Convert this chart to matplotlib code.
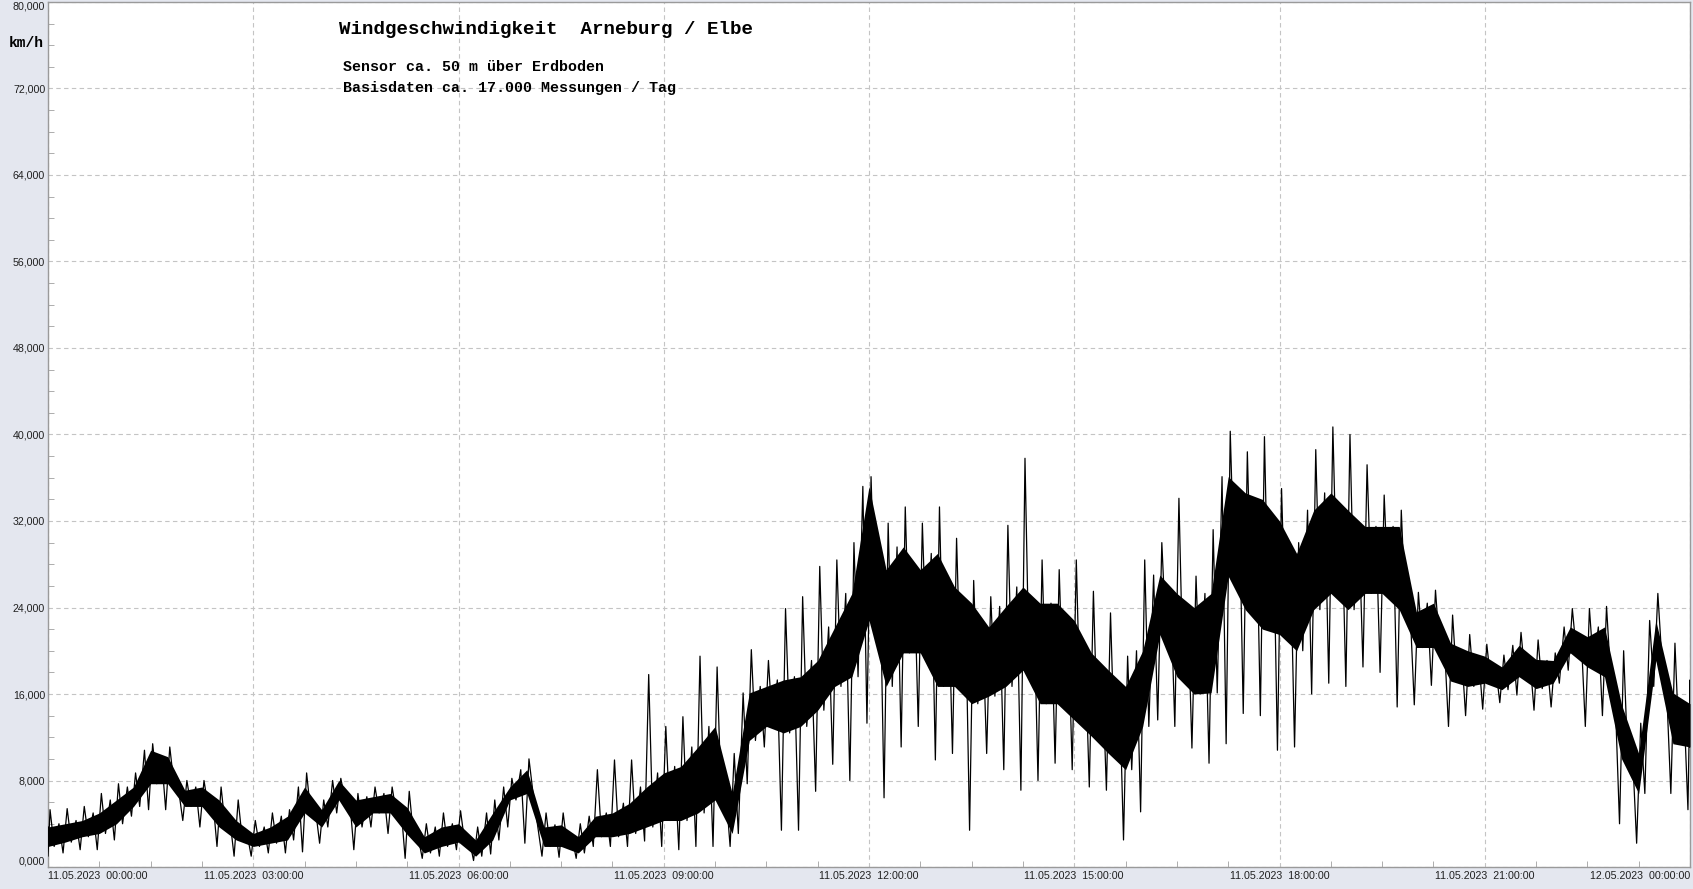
import numpy as np
import matplotlib
matplotlib.use("Agg")
from matplotlib import pyplot as plt
from matplotlib.ticker import MultipleLocator, FuncFormatter

# time of day in hours, one reading every 15 minutes (11.05.2023 00:00 .. 12.05.2023 00:00)
hours = np.arange(0, 24.01, 0.25)

# dense part of the trace (km/h)
core_lo = [1.9, 2.3, 2.8, 3.1, 4.0, 5.6, 7.7, 7.7, 5.6, 5.6, 3.7, 2.5, 1.9, 2.2, 2.5, 5.0,
           3.7, 6.2, 3.7, 5.0, 5.0, 3.0, 1.3, 1.9, 2.3, 1.0, 2.5, 6.2, 6.8, 1.9, 1.9, 1.3,
           2.8, 2.8, 3.1, 3.7, 4.3, 4.3, 5.0, 6.2, 3.1, 11.7, 13.0, 12.4, 13.0, 14.5, 16.7, 17.6,
           22.8, 16.7, 19.8, 19.8, 16.7, 16.7, 15.1, 15.8, 16.7, 18.2, 15.1, 15.1, 13.6, 12.1, 10.5, 9.0,
           13.0, 21.5, 17.6, 16.0, 16.1, 26.9, 23.8, 22.0, 21.5, 20.0, 23.8, 25.3, 23.8, 25.3, 25.3, 23.8,
           20.3, 20.3, 17.2, 16.7, 17.0, 16.4, 17.6, 16.5, 17.0, 19.8, 18.5, 17.6, 10.0, 6.8, 19.1, 11.4,
           11.1]
core_hi = [3.7, 4.0, 4.3, 5.0, 6.2, 7.4, 10.8, 10.2, 7.1, 7.4, 6.2, 4.3, 3.1, 3.7, 4.7, 7.4,
           5.3, 8.0, 6.2, 6.5, 6.8, 5.5, 2.8, 3.7, 4.0, 2.5, 5.0, 7.4, 9.0, 3.7, 3.9, 2.8,
           4.7, 5.0, 5.9, 7.4, 8.7, 9.3, 11.1, 13.0, 6.8, 16.1, 16.7, 17.3, 17.6, 19.1, 22.2, 25.3,
           35.2, 27.5, 29.6, 27.5, 29.0, 25.9, 24.4, 22.2, 24.1, 25.9, 24.4, 24.4, 22.8, 19.8, 18.2, 16.7,
           20.0, 27.0, 25.3, 24.0, 25.3, 36.1, 34.6, 34.0, 32.0, 29.0, 33.0, 34.6, 33.0, 31.5, 31.5, 31.5,
           23.6, 24.4, 20.7, 20.0, 19.5, 18.5, 20.5, 19.2, 19.1, 22.2, 21.3, 22.2, 15.0, 10.5, 22.8, 16.1,
           15.1]
# single gusts / dips reaching beyond the dense part (km/h)
spike_lo = [1.0, 1.3, 1.6, 1.6, 2.5, 4.7, 5.3, 5.3, 4.3, 3.7, 1.9, 1.0, 1.0, 1.3, 1.3, 1.4,
            2.2, 5.0, 1.6, 3.7, 3.1, 0.8, 0.8, 1.0, 1.6, 0.6, 1.2, 3.7, 2.2, 1.0, 0.9, 0.8,
            1.9, 1.9, 1.9, 2.4, 1.9, 1.6, 1.9, 1.9, 1.9, 7.7, 11.1, 3.4, 3.4, 7.0, 9.5, 8.0,
            13.3, 6.4, 11.1, 13.0, 9.9, 10.5, 3.4, 10.5, 9.0, 7.1, 8.0, 9.6, 9.0, 7.4, 7.1, 2.5,
            5.1, 13.6, 13.0, 11.0, 9.6, 11.4, 14.2, 14.0, 10.8, 11.1, 16.0, 17.0, 16.7, 18.5, 18.0, 14.8,
            15.0, 16.8, 13.0, 14.0, 14.6, 15.2, 15.9, 14.5, 14.8, 18.2, 13.0, 14.0, 4.0, 2.2, 16.7, 6.8,
            5.3]
spike_hi = [5.3, 5.4, 5.6, 6.8, 7.7, 8.7, 11.4, 11.1, 8.0, 8.0, 7.4, 6.2, 4.3, 5.0, 5.3, 8.7,
            6.2, 8.2, 6.8, 7.4, 7.4, 7.0, 4.0, 5.0, 5.2, 3.7, 6.2, 8.2, 10.0, 5.0, 5.0, 4.0,
            9.0, 9.9, 9.9, 17.8, 13.0, 13.9, 19.5, 18.5, 10.5, 20.1, 19.1, 23.9, 25.0, 27.8, 28.4, 30.0,
            36.1, 31.8, 33.3, 31.8, 33.3, 30.4, 26.5, 25.0, 31.6, 37.8, 28.4, 27.5, 28.4, 25.5, 23.5, 19.5,
            28.4, 30.0, 34.1, 26.9, 31.2, 40.3, 38.4, 39.8, 35.0, 30.0, 38.6, 40.7, 40.0, 37.2, 34.4, 33.0,
            25.4, 25.6, 23.3, 21.5, 20.6, 19.6, 21.7, 21.0, 19.8, 23.9, 23.9, 24.1, 20.0, 13.3, 25.3, 20.7,
            17.3]

tick_hours = [0, 3, 6, 9, 12, 15, 18, 21, 24]
tick_labels = ["11.05.2023  00:00:00", "11.05.2023  03:00:00", "11.05.2023  06:00:00",
               "11.05.2023  09:00:00", "11.05.2023  12:00:00", "11.05.2023  15:00:00",
               "11.05.2023  18:00:00", "11.05.2023  21:00:00", "12.05.2023  00:00:00"]
y_ticks = [0, 8, 16, 24, 32, 40, 48, 56, 64, 72, 80]

# each 15 min bin is drawn as a small zigzag through its four readings
offs = [-0.09, -0.03, 0.03, 0.09]
zx, zy = [], []
for t, a, b, c, d in zip(hours, core_hi, spike_lo, spike_hi, core_lo):
    for o, v in zip(offs, (a, b, c, d)):
        zx.append(min(max(t + o, 0), 24))
        zy.append(v)

bg = "#e4e7ef"
fig = plt.figure(figsize=(16.93, 8.89), dpi=100, facecolor=bg)
ax = fig.add_axes([48/1693, 22/889, 1642/1693, 865/889])
ax.set_facecolor("white")

ax.fill_between(hours, core_lo, core_hi, color="black", lw=0, zorder=3)
ax.plot(zx, zy, color="black", lw=0.9, zorder=3)

ax.set_xlim(0, 24)
ax.set_ylim(0, 80)

ax.set_xticks(tick_hours)
ax.set_xticklabels(tick_labels)
ax.xaxis.set_minor_locator(MultipleLocator(0.75))
ax.set_yticks(y_ticks)
ax.yaxis.set_minor_locator(MultipleLocator(2))
ax.yaxis.set_major_formatter(FuncFormatter(lambda v, p: f"{v:.3f}".replace(".", ",")))

ax.tick_params(which="both", direction="in", colors="#a0a0a0", labelcolor="#202020",
               labelsize=7.7, labelfontfamily="Liberation Sans")
ax.tick_params(axis="x", which="major", length=0, pad=3)
ax.tick_params(axis="x", which="minor", length=4)
ax.tick_params(axis="y", which="major", length=0, pad=2)
ax.tick_params(axis="y", which="minor", length=4)

labels = ax.get_xticklabels()
labels[0].set_horizontalalignment("left")
labels[-1].set_horizontalalignment("right")
ylabels = ax.get_yticklabels()
ylabels[0].set_verticalalignment("bottom")
ylabels[-1].set_verticalalignment("top")

ax.grid(True, which="major", color="#c4c4c4", linestyle=(0, (4, 3)), lw=0.8, zorder=1)
for s in ax.spines.values():
    s.set_color("#9a9a9a")
    s.set_linewidth(1)

mono = "Liberation Mono"
fig.text(339/1693, 1 - 30/889, "Windgeschwindigkeit  Arneburg / Elbe", family=mono,
         weight="bold", fontsize=13.75, va="center", ha="left")
fig.text(343/1693, 1 - 67/889, "Sensor ca. 50 m über Erdboden", family=mono,
         weight="bold", fontsize=10.8, va="center", ha="left")
fig.text(343/1693, 1 - 88/889, "Basisdaten ca. 17.000 Messungen / Tag", family=mono,
         weight="bold", fontsize=10.8, va="center", ha="left")
fig.text(9/1693, 1 - 43/889, "km/h", family=mono, weight="bold", fontsize=10.5,
         va="center", ha="left")

fig.savefig("out.png", dpi=100, facecolor=bg)
